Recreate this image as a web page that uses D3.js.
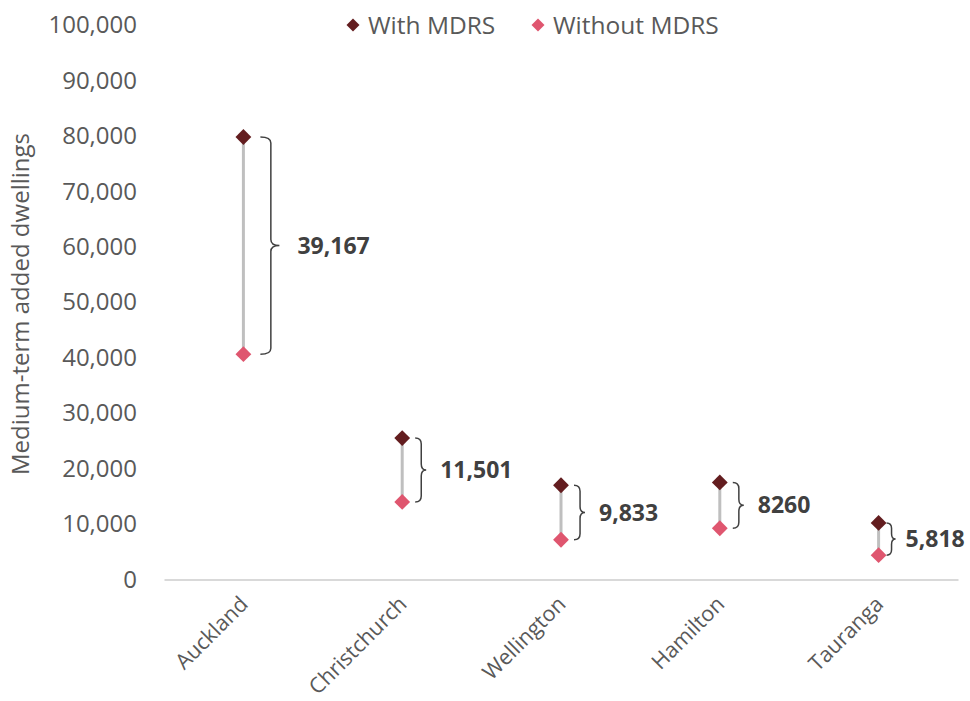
<!DOCTYPE html>
<html>
<head>
<meta charset="utf-8">
<script src="https://cdn.jsdelivr.net/npm/d3@7"></script>
<style>
  body { margin: 0; background: #fff; }
  svg text { font-family: "Open Sans", sans-serif; }
</style>
</head>
<body>
<svg width="970" height="701"></svg>
<script>
// chart data
const cities = ['Auckland', 'Christchurch', 'Wellington', 'Hamilton', 'Tauranga'];
const withMDRS = [79800, 25500, 17000, 17500, 10200];
const withoutMDRS = [40633, 13999, 7167, 9240, 4382];
const diffLabels = ['39,167', '11,501', '9,833', '8260', '5,818'];
const yTicks = [0, 10000, 20000, 30000, 40000, 50000, 60000, 70000, 80000, 90000, 100000];

const darkRed = '#631d1f';
const pink = '#df566f';
const textGrey = '#595959';

const svg = d3.select('svg');

const x = d3.scaleBand().domain(cities).range([164, 958]).padding(0);
const y = d3.scaleLinear().domain([0, 100000]).range([579.5, 25]);

// Y axis labels
const yAxis = svg.append('g')
  .attr('transform', 'translate(137,0)')
  .call(d3.axisLeft(y).tickValues(yTicks).tickSize(0).tickPadding(0).tickFormat(d3.format(',')));
yAxis.select('.domain').remove();
yAxis.selectAll('text')
  .attr('fill', textGrey)
  .style('font-size', '24px');

// Y axis title
svg.append('text')
  .attr('transform', 'translate(29,304) rotate(-90)')
  .attr('text-anchor', 'middle')
  .attr('fill', textGrey)
  .style('font-size', '24px')
  .text('Medium-term added dwellings');

// X axis
const xAxis = svg.append('g')
  .attr('transform', `translate(0,${y(0)})`)
  .call(d3.axisBottom(x).tickSize(0).tickPadding(0));
xAxis.select('.domain').attr('stroke', '#d9d9d9').attr('stroke-width', 2);
xAxis.selectAll('text')
  .attr('fill', textGrey)
  .style('font-size', '21.5px')
  .attr('text-anchor', 'end')
  .attr('dy', 0)
  .attr('transform', 'translate(6,26) rotate(-45)');

const rows = cities.map((c, i) => ({
  city: c, hi: withMDRS[i], lo: withoutMDRS[i], label: diffLabels[i]
}));

const g = svg.append('g');

// connector lines
g.selectAll('line.conn')
  .data(rows)
  .join('line')
  .attr('class', 'conn')
  .attr('x1', d => x(d.city) + x.bandwidth() / 2)
  .attr('x2', d => x(d.city) + x.bandwidth() / 2)
  .attr('y1', d => y(d.hi))
  .attr('y2', d => y(d.lo))
  .attr('stroke', '#bfbfbf')
  .attr('stroke-width', 3);

// curly braces
function bracePath(x0, y0, y1, w) {
  const mid = (y0 + y1) / 2;
  const r = Math.min(6, (y1 - y0) / 6);
  const xv = x0 + w * 0.55;
  const xt = x0 + w;
  return `M${x0},${y0} Q${xv},${y0} ${xv},${y0 + r}` +
    ` L${xv},${mid - r} Q${xv},${mid} ${xt},${mid}` +
    ` Q${xv},${mid} ${xv},${mid + r}` +
    ` L${xv},${y1 - r} Q${xv},${y1} ${x0},${y1}`;
}

rows.forEach(d => {
  const cx = x(d.city) + x.bandwidth() / 2;
  const h = y(d.lo) - y(d.hi);
  const big = h > 150, small = h < 40;
  const w = big ? 19 : (small ? 9 : 11);
  const x0 = cx + (big ? 17 : (small ? 8 : 13));
  g.append('path')
    .attr('d', bracePath(x0, y(d.hi), y(d.lo), w))
    .attr('fill', 'none')
    .attr('stroke', '#404040')
    .attr('stroke-width', 1.5);
  g.append('text')
    .attr('x', x0 + w + (big ? 18 : (small ? 10 : 14)))
    .attr('y', (y(d.hi) + y(d.lo)) / 2)
    .attr('dy', '0.35em')
    .attr('fill', '#404040')
    .style('font-size', '23px')
    .style('font-weight', 'bold')
    .text(d.label);
});

// markers
const diamond = d3.symbol().type(d3.symbolSquare).size(125);
g.selectAll('path.hi')
  .data(rows)
  .join('path')
  .attr('class', 'hi')
  .attr('d', diamond)
  .attr('transform', d => `translate(${x(d.city) + x.bandwidth() / 2},${y(d.hi)}) rotate(45)`)
  .attr('fill', darkRed);
g.selectAll('path.lo')
  .data(rows)
  .join('path')
  .attr('class', 'lo')
  .attr('d', diamond)
  .attr('transform', d => `translate(${x(d.city) + x.bandwidth() / 2},${y(d.lo)}) rotate(45)`)
  .attr('fill', pink);

// legend
const legendItems = [
  { name: 'With MDRS', color: darkRed, x: 353 },
  { name: 'Without MDRS', color: pink, x: 538 }
];
const legend = svg.append('g');
legendItems.forEach(item => {
  legend.append('path')
    .attr('d', d3.symbol().type(d3.symbolSquare).size(85)())
    .attr('transform', `translate(${item.x},25) rotate(45)`)
    .attr('fill', item.color);
  legend.append('text')
    .attr('x', item.x + 15)
    .attr('y', 25)
    .attr('dy', '0.35em')
    .attr('fill', textGrey)
    .style('font-size', '24.5px')
    .text(item.name);
});
</script>
</body>
</html>
